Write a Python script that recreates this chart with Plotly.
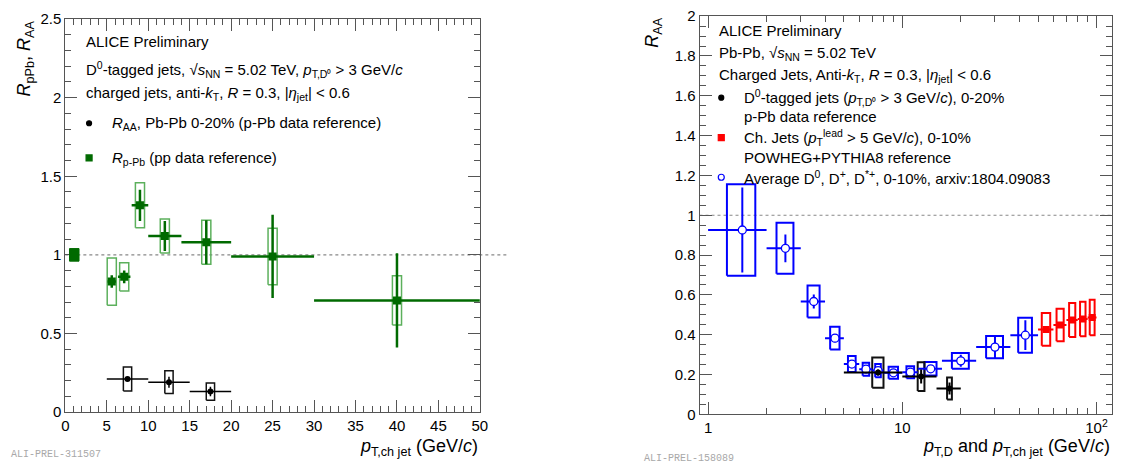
import plotly.graph_objects as go

W, H = 1126, 474

# ---------------- data: left panel ----------------
rppb_x = [5.6, 7.1, 9, 12, 17, 25, 40]
rppb_xerr = [0.5, 0.75, 1, 2, 3, 5, 10]
rppb_y = [0.83, 0.86, 1.315, 1.12, 1.08, 0.99, 0.71]
rppb_stat = [0.04, 0.04, 0.10, 0.095, 0.14, 0.265, 0.30]
rppb_sys = [0.15, 0.09, 0.143, 0.108, 0.14, 0.18, 0.157]
rppb_norm = 0.04

d0jet_x = [7.5, 12.5, 17.5]
d0jet_xerr = [2.5, 2.5, 2.5]
d0jet_y = [0.21, 0.19, 0.13]
d0jet_stat = [0.015, 0.035, 0.03]
d0jet_sys = [0.076, 0.072, 0.055]

# ---------------- data: right panel ----------------
dmes_x = [1.5, 2.5, 3.5, 4.5, 5.5, 6.5, 7.5, 9, 11, 14, 20, 30, 43]
dmes_xerr = [0.5, 0.5, 0.5, 0.5, 0.5, 0.5, 0.5, 1, 1, 2, 4, 6, 7]
dmes_y = [0.926, 0.834, 0.567, 0.383, 0.253, 0.227, 0.22, 0.209, 0.212, 0.229, 0.269, 0.338, 0.398]
dmes_stat = [0.213, 0.07, 0.035, 0.02, 0.015, 0.012, 0.012, 0.012, 0.015, 0.015, 0.03, 0.055, 0.075]
dmes_sys = [0.23, 0.128, 0.08, 0.057, 0.04, 0.033, 0.033, 0.03, 0.03, 0.034, 0.04, 0.056, 0.088]

chjet_x = [55, 65, 75, 85, 95]
chjet_xerr = [5, 5, 5, 5, 5]
chjet_y = [0.427, 0.449, 0.474, 0.479, 0.487]
chjet_stat = [0.015, 0.015, 0.015, 0.015, 0.015]
chjet_sys = [0.082, 0.082, 0.085, 0.087, 0.089]

FONT = "Liberation Sans, Arial, Helvetica, sans-serif"
DKGREEN = "#006a00"
LTGREEN = "#5cb05c"
BLUE = "#0000ff"
RED = "#ff0000"
FRAME = "#555555"


def px(xp):
    return xp / W


def py(yp):
    return 1 - yp / H


def boxes(xs, ys, hw, dy):
    bx, by = [], []
    for x, y, w, e in zip(xs, ys, hw, dy):
        bx += [x - w, x + w, x + w, x - w, x - w, None]
        by += [y - e, y - e, y + e, y + e, y - e, None]
    return bx, by


fig = go.Figure()

# ---- left panel ----
bx, by = boxes(rppb_x, rppb_y, [0.55] * len(rppb_x), rppb_sys)
fig.add_trace(go.Scatter(x=bx, y=by, mode="lines", line=dict(color=LTGREEN, width=1.5),
                         xaxis="x", yaxis="y", hoverinfo="skip"))
bx, by = boxes(d0jet_x, d0jet_y, [0.5] * len(d0jet_x), d0jet_sys)
fig.add_trace(go.Scatter(x=bx, y=by, mode="lines", line=dict(color="#111111", width=1.5),
                         xaxis="x", yaxis="y", hoverinfo="skip"))
fig.add_trace(go.Scatter(
    x=rppb_x, y=rppb_y, mode="markers", xaxis="x", yaxis="y",
    marker=dict(symbol="square", size=8, color=DKGREEN),
    error_x=dict(type="data", array=rppb_xerr, color=DKGREEN, thickness=2.5, width=0),
    error_y=dict(type="data", array=rppb_stat, color=DKGREEN, thickness=2.5, width=0)))
fig.add_trace(go.Scatter(
    x=d0jet_x, y=d0jet_y, mode="markers", xaxis="x", yaxis="y",
    marker=dict(symbol="circle", size=6, color="black"),
    error_x=dict(type="data", array=d0jet_xerr, color="black", thickness=1.5, width=0),
    error_y=dict(type="data", array=d0jet_stat, color="black", thickness=1.5, width=0)))

# ---- right panel ----
bx, by = boxes(dmes_x, dmes_y, [e / 2 for e in dmes_xerr], dmes_sys)
fig.add_trace(go.Scatter(x=bx, y=by, mode="lines", line=dict(color=BLUE, width=2),
                         xaxis="x2", yaxis="y2", hoverinfo="skip"))
bx, by = boxes(chjet_x, chjet_y, [e * 0.55 for e in chjet_xerr], chjet_sys)
fig.add_trace(go.Scatter(x=bx, y=by, mode="lines", line=dict(color=RED, width=2),
                         xaxis="x2", yaxis="y2", hoverinfo="skip"))
bx, by = boxes(d0jet_x, d0jet_y, [0.5] * len(d0jet_x), d0jet_sys)
fig.add_trace(go.Scatter(x=bx, y=by, mode="lines", line=dict(color="#111111", width=2),
                         xaxis="x2", yaxis="y2", hoverinfo="skip"))
fig.add_trace(go.Scatter(
    x=dmes_x, y=dmes_y, mode="markers", xaxis="x2", yaxis="y2",
    marker=dict(symbol="circle", size=8, color="white", line=dict(color=BLUE, width=1.3)),
    error_x=dict(type="data", array=dmes_xerr, color=BLUE, thickness=2, width=0),
    error_y=dict(type="data", array=dmes_stat, color=BLUE, thickness=2, width=0)))
fig.add_trace(go.Scatter(
    x=chjet_x, y=chjet_y, mode="markers", xaxis="x2", yaxis="y2",
    marker=dict(symbol="square", size=7, color=RED),
    error_x=dict(type="data", array=chjet_xerr, color=RED, thickness=2, width=0),
    error_y=dict(type="data", array=chjet_stat, color=RED, thickness=2, width=0)))
fig.add_trace(go.Scatter(
    x=d0jet_x, y=d0jet_y, mode="markers", xaxis="x2", yaxis="y2",
    marker=dict(symbol="circle", size=6, color="black"),
    error_x=dict(type="data", array=d0jet_xerr, color="black", thickness=2, width=0),
    error_y=dict(type="data", array=d0jet_stat, color="black", thickness=2, width=0)))

shapes = []
# reference lines at unity
shapes.append(dict(type="line", xref="paper", yref="y", x0=px(62), x1=px(508), y0=1, y1=1,
                   line=dict(color="#888888", width=1.2, dash="dot"), layer="below"))
shapes.append(dict(type="line", xref="x2 domain", yref="y2", x0=0, x1=1, y0=1, y1=1,
                   line=dict(color="#888888", width=1.2, dash="dot"), layer="below"))
# normalisation uncertainty box
shapes.append(dict(type="rect", xref="x", yref="y", x0=0.5, x1=1.65,
                   y0=1 - rppb_norm, y1=1 + rppb_norm,
                   fillcolor=DKGREEN, line=dict(color=DKGREEN, width=1)))


def legmark(xp, yp, kind, color, size, fill=None):
    s = size / 2
    shapes.append(dict(type=kind, xref="paper", yref="paper", xsizemode="pixel", ysizemode="pixel",
                       xanchor=px(xp), yanchor=py(yp), x0=-s, x1=s, y0=-s, y1=s,
                       fillcolor=fill or color, line=dict(color=color, width=1.2)))


legmark(86, 118.5, "circle", "black", 5)
legmark(86, 154.5, "rect", DKGREEN, 6)
legmark(725, 92, "circle", "black", 5)
legmark(725, 133.5, "rect", RED, 6)
legmark(725, 174.5, "circle", BLUE, 6, fill="white")

ann = []


def text(xp, yp, s, size=15, xanchor="left", **kw):
    ann.append(dict(x=px(xp), y=py(yp), xref="paper", yref="paper", text=s, showarrow=False,
                    xanchor=xanchor, yanchor="middle", font=dict(family=FONT, size=size, color="black"), **kw))


# left panel texts
text(81, 34, "ALICE Preliminary")
text(81, 63, "D<sup>0</sup>-tagged jets, √<i>s</i><sub>NN</sub> = 5.02 TeV, <i>p</i><sub>T,D⁰</sub> &gt; 3 GeV/<i>c</i>")
text(81, 88, "charged jets, anti-<i>k</i><sub>T</sub>, <i>R</i> = 0.3, |<i>η</i><sub>jet</sub>| &lt; 0.6")
text(107, 119, "<i>R</i><sub>AA</sub>, Pb-Pb 0-20% (p-Pb data reference)")
text(107, 155, "<i>R</i><sub>p-Pb</sub> (pp data reference)")
# right panel texts
text(721, 22.5, "ALICE Preliminary")
text(721, 46.5, "Pb-Pb, √<i>s</i><sub>NN</sub> = 5.02 TeV")
text(721, 68.5, "Charged Jets, Anti-<i>k</i><sub>T</sub>, <i>R</i> = 0.3, |<i>η</i><sub>jet</sub>| &lt; 0.6")
text(746, 92, "D<sup>0</sup>-tagged jets (<i>p</i><sub>T,D⁰</sub> &gt; 3 GeV/<i>c</i>), 0-20%")
text(746, 112, "p-Pb data reference")
text(746, 133.5, "Ch. Jets (<i>p</i><sub>T</sub><sup>lead</sup> &gt; 5 GeV/<i>c</i>), 0-10%")
text(746, 154, "POWHEG+PYTHIA8 reference")
text(746, 174.5, "Average D<sup>0</sup>, D<sup>+</sup>, D<sup>*+</sup>, 0-10%, arxiv:1804.09083")

# axis titles
text(481, 455, "<i>p</i><sub>T,ch jet</sub> (GeV/<i>c</i>)", size=18, xanchor="right")
text(1120, 455, "<i>p</i><sub>T,D</sub> and <i>p</i><sub>T,ch jet</sub> (GeV/<i>c</i>)", size=18, xanchor="right")
ann.append(dict(x=px(22), y=py(10), xref="paper", yref="paper", showarrow=False, textangle=-90,
                text="<i>R</i><sub>pPb</sub>, <i>R</i><sub>AA</sub>", xanchor="center", yanchor="top",
                font=dict(family=FONT, size=18, color="black")))
ann.append(dict(x=px(657), y=py(7), xref="paper", yref="paper", showarrow=False, textangle=-90,
                text="<i>R</i><sub>AA</sub>", xanchor="center", yanchor="top",
                font=dict(family=FONT, size=18, color="black")))
# figure IDs
for xp, yp, s in [(5, 462, "ALI-PREL-311507"), (645, 466, "ALI-PREL-158089")]:
    ann.append(dict(x=px(xp), y=py(yp), xref="paper", yref="paper", text=s, showarrow=False,
                    xanchor="left", yanchor="middle",
                    font=dict(family="Liberation Mono, Courier New, monospace", size=10, color="#a8a8a8")))

axis_common = dict(showgrid=False, zeroline=False, showline=True, linecolor=FRAME, linewidth=1,
                   mirror="ticks", ticks="inside", ticklen=12, tickwidth=1, tickcolor=FRAME,
                   tickfont=dict(family=FONT, size=15, color="black"))

fig.update_layout(
    width=W, height=H, margin=dict(l=0, r=0, t=0, b=0),
    paper_bgcolor="white", plot_bgcolor="white", showlegend=False,
    shapes=shapes, annotations=ann,
    xaxis=dict(domain=[px(62), px(481)], range=[0, 50], anchor="y", tick0=0, dtick=5,
               minor=dict(ticks="inside", ticklen=6, dtick=1, tickcolor=FRAME), **axis_common),
    yaxis=dict(domain=[py(418), py(10.5)], range=[0, 2.5], anchor="x", tick0=0, dtick=0.5,
               minor=dict(ticks="inside", ticklen=6, dtick=0.1, tickcolor=FRAME), **axis_common),
    xaxis2=dict(domain=[px(703), px(1120)], type="log", range=[-0.0443, 2.080], anchor="y2",
                tickmode="array", tickvals=[1, 10, 100], ticktext=["1", "10", "10<sup>2</sup>"],
                minor=dict(ticks="inside", ticklen=6, tickcolor=FRAME, tickmode="array",
                           tickvals=[2, 3, 4, 5, 6, 7, 8, 9, 20, 30, 40, 50, 60, 70, 80, 90]),
                **axis_common),
    yaxis2=dict(domain=[py(420.5), py(7.4)], range=[0, 2], anchor="x2", tick0=0, dtick=0.2,
                minor=dict(ticks="inside", ticklen=6, dtick=0.05, tickcolor=FRAME), **axis_common),
)

fig.write_html("out.html")
